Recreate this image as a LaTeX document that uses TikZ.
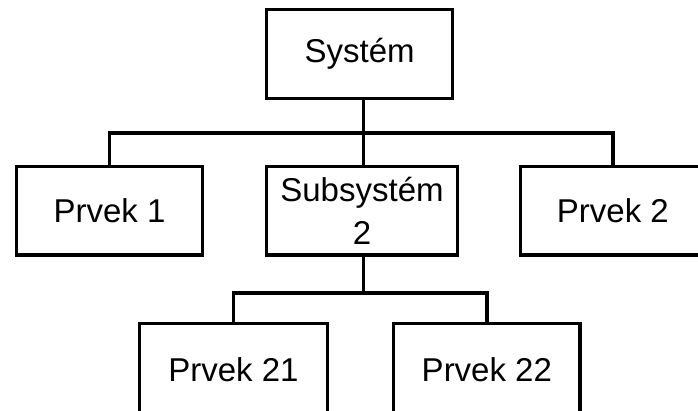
\documentclass[tikz,border=0pt]{standalone}
\usepackage{fontspec}
\setmainfont{Liberation Sans}
\begin{document}
\begin{tikzpicture}[x=1pt,y=-1pt,
  box/.style={draw=black, line width=3.3pt, inner sep=0pt, align=center,
    font=\fontsize{33}{43}\selectfont},
  conn/.style={draw=black, line width=3.3pt}]
\useasboundingbox (0,0) rectangle (698,410);
\clip (0,0) rectangle (698,410);
\node[box, minimum width=185.8pt, minimum height=88.6pt] (sys) at (359.6,54) {Systém};
\node[box, minimum width=185.6pt, minimum height=88.3pt] (p1) at (109.5,210.85) {Prvek 1};
\node[box, minimum width=190.6pt, minimum height=88.3pt] (sub) at (362,210.85) {Subsystém\\2};
\node[box, minimum width=184.3pt, minimum height=88.3pt] (p2) at (612.85,210.85) {Prvek 2};
\node[box, minimum width=187.6pt, minimum height=92pt] (p21) at (233.5,369.3) {Prvek 21};
\node[box, minimum width=186.3pt, minimum height=92pt] (p22) at (486.85,369.3) {Prvek 22};
\coordinate (j1) at (363.3,133);
\coordinate (j2) at (363.3,293);
\draw[conn] (sys.south -| j1) -- (j1);
\draw[conn] (p1.north) |- (j1) -| (p2.north);
\draw[conn] (sub.north -| j1) -- (j1);
\draw[conn] (sub.south -| j2) -- (j2);
\draw[conn] (p21.north) |- (j2) -| (p22.north);
\end{tikzpicture}
\end{document}
